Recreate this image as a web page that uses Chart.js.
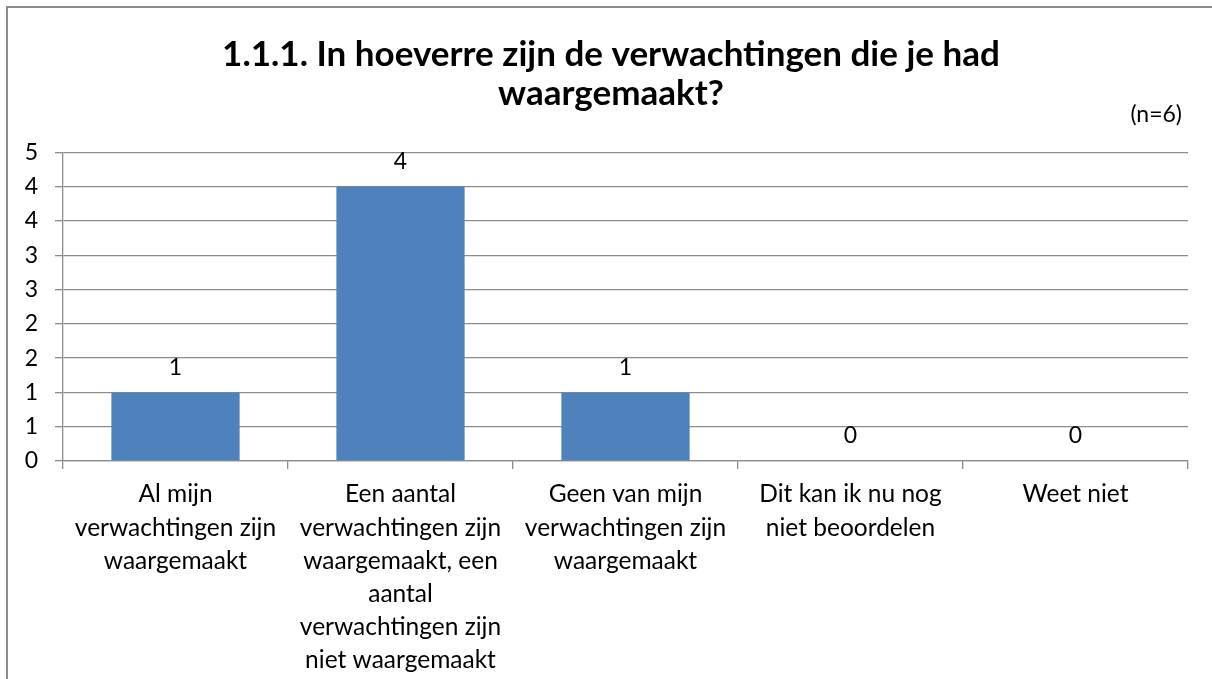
<!DOCTYPE html>
<html>
<head>
<meta charset="utf-8">
<script src="https://cdn.jsdelivr.net/npm/chart.js@4.4.1/dist/chart.umd.min.js"></script>
<style>
  html, body { margin: 0; padding: 0; background: #ffffff; }
  #wrap { position: relative; width: 1212px; height: 679px; overflow: hidden; background: #fff; }
  #frame { position: absolute; left: 6px; top: 6px; width: 1300px; height: 800px; border: 2px solid #8c8c8c; box-sizing: border-box; pointer-events: none; }
  canvas { position: absolute; left: 0; top: 0; }
</style>
</head>
<body>
<div id="wrap">
  <canvas id="c" width="1212" height="679"></canvas>
  <div id="frame"></div>
</div>
<script>
const titleLines = ['1.1.1. In hoeverre zijn de verwachtingen die je had', 'waargemaakt?'];
const sampleNote = '(n=6)';
const categories = [
  ['Al mijn', 'verwachtingen zijn', 'waargemaakt'],
  ['Een aantal', 'verwachtingen zijn', 'waargemaakt, een', 'aantal', 'verwachtingen zijn', 'niet waargemaakt'],
  ['Geen van mijn', 'verwachtingen zijn', 'waargemaakt'],
  ['Dit kan ik nu nog', 'niet beoordelen'],
  ['Weet niet']
];
const values = [1, 4, 1, 0, 0];
const yTickLabels = ['0', '1', '1', '2', '2', '3', '3', '4', '4', '5'];

const FONT = 'Lato, Carlito, Calibri, sans-serif';

const valueLabels = {
  id: 'valueLabels',
  afterDatasetsDraw(chart) {
    const ctx = chart.ctx;
    ctx.save();
    ctx.font = '23px ' + FONT;
    ctx.fillStyle = '#000';
    ctx.textAlign = 'center';
    ctx.textBaseline = 'middle';
    chart.getDatasetMeta(0).data.forEach((el, i) => {
      ctx.fillText(String(values[i]), el.x, el.y - 25);
    });
    ctx.restore();
  }
};

const noteLabel = {
  id: 'noteLabel',
  afterDraw(chart) {
    const ctx = chart.ctx;
    const a = chart.chartArea;
    ctx.save();
    ctx.font = '23px ' + FONT;
    ctx.fillStyle = '#000';
    ctx.textAlign = 'right';
    ctx.textBaseline = 'middle';
    ctx.fillText(sampleNote, a.right - 6, a.top - 38);
    ctx.restore();
  }
};

new Chart(document.getElementById('c'), {
  type: 'bar',
  data: {
    labels: categories,
    datasets: [{
      data: values,
      backgroundColor: '#4f81bd',
      borderWidth: 0,
      categoryPercentage: 1.0,
      barPercentage: 0.57,
      yAxisID: 'y'
    }]
  },
  options: {
    responsive: false,
    animation: false,
    devicePixelRatio: 1,
    layout: { padding: { left: 20, right: 10, top: 0, bottom: 0 } },
    plugins: {
      legend: { display: false },
      tooltip: { enabled: false },
      title: {
        display: true,
        text: titleLines,
        color: '#000',
        font: { family: FONT, size: 35, weight: 'bold', lineHeight: 1.09 },
        padding: { top: 36, bottom: 40 }
      }
    },
    scales: {
      x: {
        afterFit(scale) { scale.height = 218; },
        grid: { display: true, drawOnChartArea: false, drawTicks: true, tickLength: 8, color: '#8c8c8c', lineWidth: 1.3 },
        border: { display: true, color: '#8c8c8c', width: 1.3 },
        ticks: {
          color: '#000',
          maxRotation: 0,
          autoSkip: false,
          padding: 9,
          font: { family: FONT, size: 24.5, lineHeight: 1.35 }
        }
      },
      y: {
        position: 'left',
        min: 0,
        max: 4.5,
        afterFit(scale) { scale.width = 43; },
        grid: { color: '#8c8c8c', lineWidth: 1.3, tickLength: 8 },
        border: { display: true, color: '#8c8c8c', width: 1.3 },
        ticks: {
          stepSize: 0.5,
          color: '#000',
          padding: 17,
          font: { family: FONT, size: 23 },
          callback: (v, i) => yTickLabels[i]
        }
      },
      spacer: {
        type: 'linear',
        position: 'right',
        display: true,
        afterFit(scale) { scale.width = 14; },
        grid: { display: false, drawOnChartArea: false },
        border: { display: false },
        ticks: { display: false }
      }
    }
  },
  plugins: [valueLabels, noteLabel]
});
</script>
</body>
</html>
